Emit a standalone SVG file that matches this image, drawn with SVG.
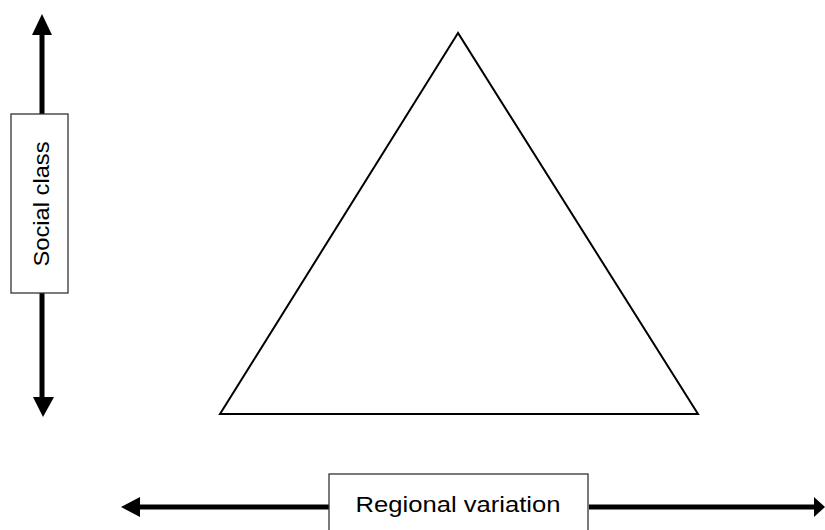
<svg xmlns="http://www.w3.org/2000/svg" width="825" height="530" viewBox="0 0 825 530">
<style>
.shaft{stroke:#000;stroke-width:5;fill:none}
.head{fill:#000}
.box{fill:#fff;stroke:#333;stroke-width:1.3}
.lbl{font-family:"Liberation Sans","Open Sans",sans-serif;font-size:22px;fill:#000;text-anchor:middle}
</style>
<rect width="825" height="530" fill="#fff"/>
<g id="connectors">
<line class="shaft" x1="42" y1="32" x2="42" y2="114"/>
<polygon class="head" points="42,14 52,35 32,35"/>
<line class="shaft" x1="42" y1="293" x2="42" y2="398"/>
<polygon class="head" points="43,417 54,397 33,397"/>
<line class="shaft" x1="138" y1="507" x2="329" y2="507"/>
<polygon class="head" points="121,507 140,497 140,517"/>
<line class="shaft" x1="589" y1="507" x2="815" y2="507"/>
<polygon class="head" points="825,507 814,497 814,517"/>
</g>
<g id="triangle">
<polygon points="458,33 220,414 698,414" fill="none" stroke="#000" stroke-width="2"/>
</g>
<g id="social-class">
<rect class="box" x="11" y="114" width="57" height="179"/>
<text class="lbl" transform="translate(48.5,204) rotate(-90)" textLength="125" lengthAdjust="spacingAndGlyphs">Social class</text>
</g>
<g id="regional-variation">
<rect class="box" x="329" y="474" width="259" height="70"/>
<text class="lbl" x="458" y="512" textLength="205" lengthAdjust="spacingAndGlyphs">Regional variation</text>
</g>
</svg>
